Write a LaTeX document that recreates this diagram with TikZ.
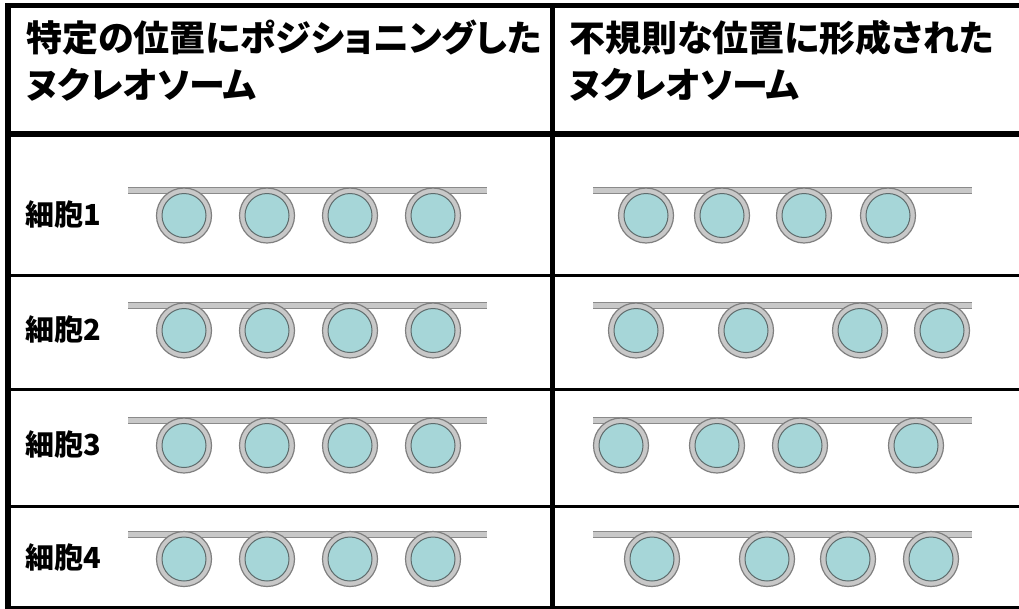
\documentclass[tikz,border=0pt]{standalone}
\usepackage{fontspec}
\setmainfont{Noto Sans CJK JP}
\newfontfamily\headfont{Noto Sans CJK JP}[RawFeature=+palt]
\definecolor{ringfill}{HTML}{C8C8C8}
\definecolor{ringedge}{HTML}{7F7F7F}
\definecolor{corefill}{HTML}{A6D6D8}
\definecolor{coreedge}{HTML}{5E6B6C}
\definecolor{dnafill}{HTML}{C8C8C8}
\definecolor{dnaedge}{HTML}{8A8A8A}
\begin{document}
\begin{tikzpicture}[x=1pt,y=-1pt,
  frame/.style={line width=5.5pt,black},
  rowrule/.style={line width=3pt,black},
  headtext/.style={anchor=west,inner sep=0pt,font=\headfont\fontsize{36}{47}\selectfont\bfseries,align=left},
  celltext/.style={anchor=west,inner sep=0pt,font=\fontsize{29}{32}\selectfont\bfseries},
  nucring/.style={circle,inner sep=0pt,minimum size=55pt,fill=ringfill,draw=ringedge,line width=1.2pt},
  nuccore/.style={circle,inner sep=0pt,minimum size=44pt,fill=corefill,draw=coreedge,line width=1pt},
  dna/.style={draw=dnaedge,double=dnafill,double distance=5pt,line width=1pt}]
\useasboundingbox (0,0) rectangle (1019,608);
\fill[white] (0,0) rectangle (1019,608);

% table rules
\coordinate (tl) at (8,5.5);
\coordinate (tr) at (1030,5.5);
\coordinate (bl) at (8,609);
\coordinate (br) at (1030,609);
\draw[frame] (tr) -- (tl) -- (bl) -- (br);
\coordinate (hl) at (8,134);
\coordinate (hr) at (1030,134);
\draw[frame] (hl) -- (hr);
\coordinate (ct) at (552.5,5.5);
\coordinate (cb) at (552.5,609);
\draw[frame] (ct) -- (cb);
\foreach \y [count=\k] in {275.5,389.5,506}{
  \coordinate (r\k l) at (8,\y);
  \coordinate (r\k r) at (1030,\y);
  \draw[rowrule] (r\k l) -- (r\k r);
}

% column headings
\node[headtext] (hleft) at (26,61) {特定の位置にポジショニングした\\ヌクレオソーム};
\node[headtext] (hright) at (569,61) {不規則な位置に形成された\\ヌクレオソーム};

% one row per cell: label, left strand (regular), right strand (irregular)
\foreach \r/\dy/\rl in {1/190.5/{646,722,804,888},
                        2/305.5/{636,746,860,942},
                        3/420.5/{621,717,800,916},
                        4/534/{652,767,848,931}}{
  \node[celltext] (lab\r) at (25,\dy+24) {細胞\r};
  \coordinate (la\r) at (128,\dy);
  \coordinate (lb\r) at (487,\dy);
  \draw[dna] (la\r) -- (lb\r);
  \foreach \x [count=\i] in {184,267,350,433}{
    \node[nucring] (L\r-\i) at (\x,\dy+25) {};
    \node[nuccore] (Lc\r-\i) at (L\r-\i.center) {};
  }
  \coordinate (ra\r) at (593,\dy);
  \coordinate (rb\r) at (972,\dy);
  \draw[dna] (ra\r) -- (rb\r);
  \foreach \x [count=\i] in \rl{
    \node[nucring] (R\r-\i) at (\x,\dy+25) {};
    \node[nuccore] (Rc\r-\i) at (R\r-\i.center) {};
  }
}
\end{tikzpicture}
\end{document}
